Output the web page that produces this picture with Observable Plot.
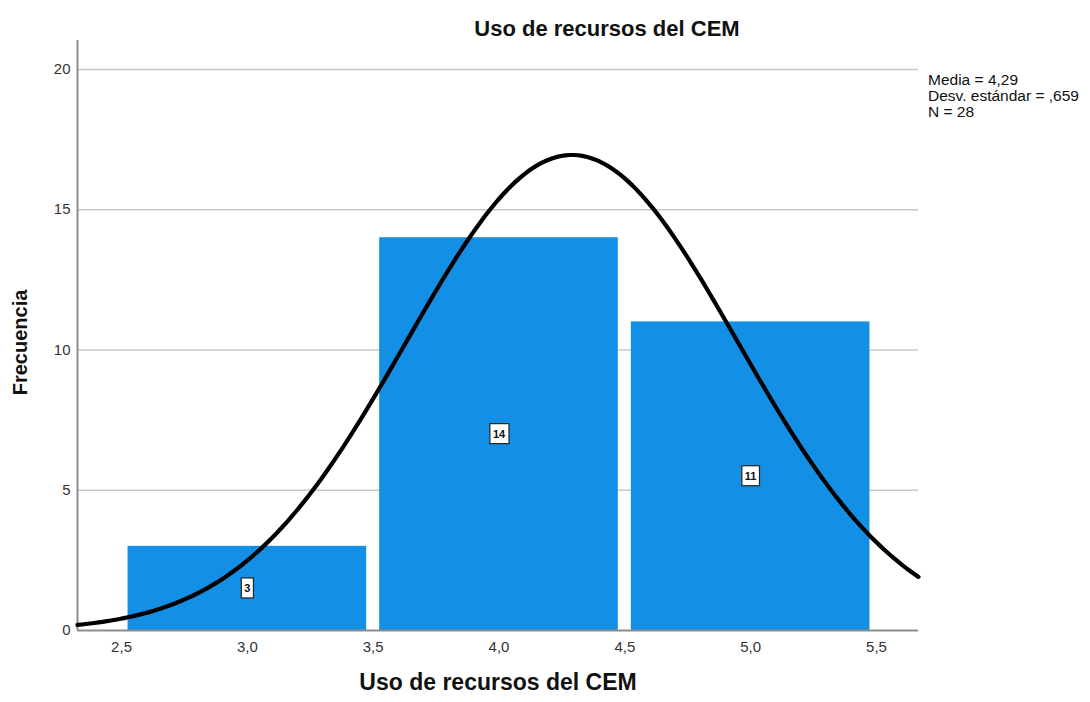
<!DOCTYPE html>
<html>
<head>
<meta charset="utf-8">
<script src="https://cdn.jsdelivr.net/npm/d3@7"></script>
<script src="https://cdn.jsdelivr.net/npm/@observablehq/plot@0.6"></script>
<style>
  body { margin: 0; background: #fff; }
  svg { font-family: "Liberation Sans", Arial, sans-serif; }
</style>
</head>
<body>
<div id="chart"></div>
<script>
// Data
const binStart = [2.5, 3.5, 4.5];
const binEnd = [3.5, 4.5, 5.5];
const frequencies = [3, 14, 11];
const xTicks = [2.5, 3.0, 3.5, 4.0, 4.5, 5.0, 5.5];
const yTicks = [0, 5, 10, 15, 20];
const statMean = 4.29;
const statSd = 0.659;
const statN = 28;
const statLines = ["Media = 4,29", "Desv. estándar = ,659", "N = 28"];

const bars = binStart.map((s, i) => ({x1: s, x2: binEnd[i], y: frequencies[i]}));
const xDomain = [2.325, 5.667];
const binWidth = 1;
const curve = d3.range(0, 201).map(i => {
  const x = xDomain[0] + (xDomain[1] - xDomain[0]) * i / 200;
  const z = (x - statMean) / statSd;
  return {x, y: statN * binWidth * Math.exp(-0.5 * z * z) / (statSd * Math.sqrt(2 * Math.PI))};
});
const fmt = d => d3.format(".1f")(d).replace(".", ",");

const chart = Plot.plot({
  width: 1090,
  height: 702,
  marginLeft: 77,
  marginRight: 172,
  marginTop: 40,
  marginBottom: 72,
  style: {fontFamily: "Liberation Sans, Arial, sans-serif", background: "#fff"},
  x: {domain: xDomain, ticks: xTicks, tickFormat: fmt, tickSize: 0, tickPadding: 10, label: null},
  y: {domain: [0, 21.03], ticks: yTicks, tickSize: 0, tickPadding: 7, label: null},
  marks: [
    Plot.gridY(yTicks.filter(d => d > 0), {stroke: "#c8c8c8", strokeOpacity: 1, strokeWidth: 1.5}),
    Plot.rectY(bars, {x1: "x1", x2: "x2", y: "y", fill: "#1390e6", insetLeft: 6.5, insetRight: 6.5}),
    Plot.ruleY([0], {stroke: "#8c8c8c", strokeWidth: 2}),
    Plot.ruleX([xDomain[0]], {stroke: "#8c8c8c", strokeWidth: 2}),
    Plot.axisX({ticks: xTicks, tickFormat: fmt, tickSize: 0, tickPadding: 11, fontSize: 15, fill: "#333", label: null}),
    Plot.axisY({ticks: yTicks, tickSize: 0, tickPadding: 7, fontSize: 15, fill: "#333", label: null}),
    Plot.line(curve, {x: "x", y: "y", stroke: "#000", strokeWidth: 4.2, curve: "linear"}),
    Plot.text(bars, {
      x: d => (d.x1 + d.x2) / 2, y: d => d.y / 2, text: d => String(d.y),
      fontSize: 11, fontWeight: "bold", fill: "#111", className: "barlabel"
    }),
    Plot.text(["Uso de recursos del CEM"], {frameAnchor: "top", dx: 109, dy: -20, fontSize: 22, letterSpacing: 0.8, fontWeight: "bold", fill: "#111"}),
    Plot.text(["Uso de recursos del CEM"], {frameAnchor: "bottom", dy: 59, fontSize: 23, letterSpacing: 0.6, fontWeight: "bold", fill: "#111"}),
    Plot.text(["Frecuencia"], {frameAnchor: "left", dx: -57, dy: 7, rotate: -90, textAnchor: "middle", fontSize: 20, fontWeight: "bold", fill: "#111"}),
    Plot.text(statLines, {
      frameAnchor: "top-right", textAnchor: "start",
      fontSize: 15.5, fill: "#111", className: "stats"
    })
  ]
});

document.getElementById("chart").appendChild(chart);

// Stats lines: position them explicitly (line spacing)
const st = chart.querySelector("g.stats") || chart.querySelector("g[class*='stats']");
if (st) {
  st.removeAttribute("transform");
  st.querySelectorAll("text").forEach((t, i) => {
    t.setAttribute("transform", `translate(928,${80 + i * 15.8})`);
    t.setAttribute("x", 0); t.setAttribute("y", 0);
    t.setAttribute("dy", "0.32em");
  });
}

// Boxes behind bar labels
const lbl = chart.querySelector("g.barlabel") || chart.querySelector("g[class*='barlabel']");
if (lbl) {
  lbl.querySelectorAll("text").forEach(t => {
    const b = t.getBBox();
    const r = document.createElementNS("http://www.w3.org/2000/svg", "rect");
    const w = Math.max(b.width + 6, 12);
    const h = 20;
    r.setAttribute("x", b.x + b.width / 2 - w / 2);
    r.setAttribute("y", b.y + b.height / 2 - h / 2);
    r.setAttribute("width", w);
    r.setAttribute("height", h);
    r.setAttribute("fill", "#fff");
    r.setAttribute("stroke", "#222");
    r.setAttribute("stroke-width", 1.2);
    const tr = t.getAttribute("transform");
    if (tr) r.setAttribute("transform", tr);
    t.parentNode.insertBefore(r, t);
  });
}
</script>
</body>
</html>
